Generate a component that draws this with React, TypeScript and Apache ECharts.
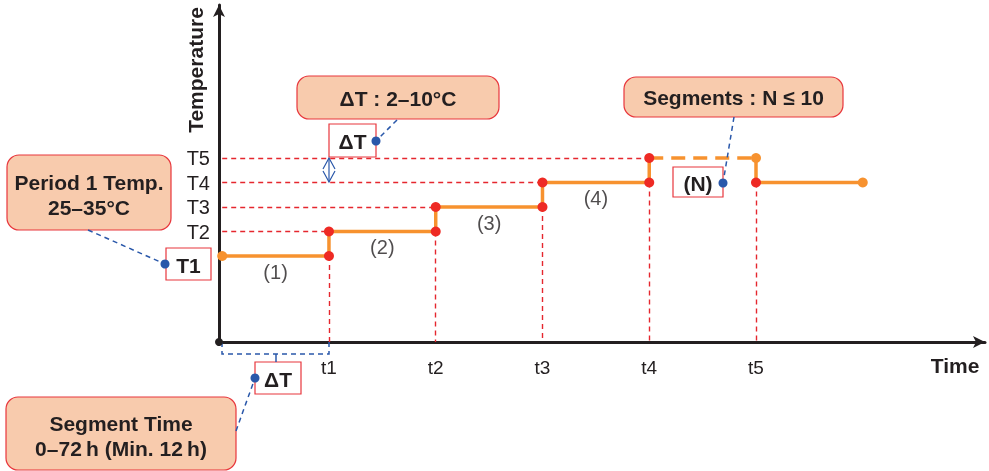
import React, { useEffect, useRef } from "react";
import * as echarts from "echarts";

const timeLabels = ["t1", "t2", "t3", "t4", "t5"];
const timeValues = [1, 2, 3, 4, 5];
const tempLabels = ["T2", "T3", "T4", "T5"];
const tempValues = [2, 3, 4, 5];

const stepSolidA = [[0, 1], [1, 1], [1, 2], [2, 2], [2, 3], [3, 3], [3, 4], [4, 4], [4, 5]];
const stepDashed = [[4, 5], [5, 5]];
const stepSolidB = [[5, 5], [5, 4], [6, 4]];
const redPoints = [[1, 1], [1, 2], [2, 2], [2, 3], [3, 3], [3, 4], [4, 4], [4, 5], [5, 4]];
const orangePoints = [[0, 1], [5, 5], [6, 4]];

const segmentLabels = ["(1)", "(2)", "(3)", "(4)"];
const segmentLabelX = [0.5, 1.5, 2.5, 3.5];
const segmentLabelY = [0.35, 1.35, 2.35, 3.35];

// horizontal guides: [xStart, xEnd, level]
const hGuides = [[0, 1, 2], [0, 2, 3], [0, 3, 4], [0, 4, 5]];
// vertical guides: [x, level of lowest dot]
const vGuides = [[1, 1], [2, 2], [3, 3], [4, 4], [5, 4]];

const X_MIN = -0.03;
const X_MAX = 7.145;
const Y_MIN = -2.51;
const Y_MAX = 11.245;

const FONT = "'Liberation Sans', Arial, sans-serif";
const ORANGE = "#F7922F";
const RED = "#EE2A24";
const GUIDE = "#E5272E";
const BLUE = "#2A58AA";
const DARK = "#231F20";
const PEACH = "#F8CBAD";
const BOX_RED = "#E8363C";

function calloutBox(x: number, y: number, w: number, h: number, lines: string[], lineYs: number[]) {
  const els: any[] = [
    {
      type: "rect",
      shape: { x, y, width: w, height: h, r: 12 },
      style: { fill: PEACH, stroke: BOX_RED, lineWidth: 1.2 },
      z: 100,
    },
  ];
  lines.forEach((t, i) => {
    els.push({
      type: "text",
      x: x + w / 2,
      y: lineYs[i],
      style: { text: t, fill: DARK, font: `bold 21px ${FONT}`, align: "center", verticalAlign: "middle" },
      z: 101,
    });
  });
  return els;
}

function smallBox(x: number, y: number, w: number, h: number, text: string) {
  return [
    {
      type: "rect",
      shape: { x, y, width: w, height: h },
      style: { fill: "#fff", stroke: BOX_RED, lineWidth: 1.2 },
      z: 100,
    },
    {
      type: "text",
      x: x + w / 2,
      y: y + h / 2 + 1,
      style: { text, fill: DARK, font: `bold 21px ${FONT}`, align: "center", verticalAlign: "middle" },
      z: 101,
    },
  ];
}

function leader(x1: number, y1: number, x2: number, y2: number) {
  return [
    {
      type: "line",
      shape: { x1, y1, x2, y2 },
      style: { stroke: BLUE, lineWidth: 1.5, lineDash: [5, 4] },
      z: 102,
    },
    {
      type: "circle",
      shape: { cx: x2, cy: y2, r: 4.5 },
      style: { fill: BLUE },
      z: 103,
    },
  ];
}

export default function App() {
  const ref = useRef<HTMLDivElement>(null);
  useEffect(() => {
    if (!ref.current) return;
    const chart = echarts.init(ref.current, undefined, { renderer: "svg" });

    const guideData: any[] = [];
    hGuides.forEach(([x0, x1, lv]) => guideData.push({ coords: [[x0, lv], [x1, lv]] }));
    vGuides.forEach(([x, lv]) => guideData.push({ coords: [[x, lv], [x, Y_MIN]] }));

    const graphics: any[] = [
      {
        type: "text",
        x: 195,
        y: 70,
        rotation: Math.PI / 2,
        style: { text: "Temperature", fill: DARK, font: `bold 21px ${FONT}`, align: "center", verticalAlign: "middle" },
        z: 101,
      },
      {
        type: "text",
        x: 955,
        y: 365,
        style: { text: "Time", fill: DARK, font: `bold 21px ${FONT}`, align: "center", verticalAlign: "middle" },
        z: 101,
      },
      { type: "circle", shape: { cx: 219, cy: 342, r: 4 }, style: { fill: DARK }, z: 103 },
      ...calloutBox(7, 155, 164, 75, ["Period 1 Temp.", "25\u201335\u00B0C"], [182, 207]),
      ...smallBox(166, 248, 45, 32, "T1"),
      ...leader(88, 230, 165, 264),
      ...calloutBox(297, 76, 202, 43, ["\u0394T : 2\u201310\u00B0C"], [98]),
      ...smallBox(329, 124, 47, 33, "\u0394T"),
      ...leader(397, 120, 376, 141),
      {
        type: "polyline",
        shape: { points: [[323, 169], [329, 158], [335, 169]] },
        style: { stroke: BLUE, lineWidth: 1.2, fill: "none" },
        z: 102,
      },
      {
        type: "polyline",
        shape: { points: [[323, 171], [329, 182], [335, 171]] },
        style: { stroke: BLUE, lineWidth: 1.2, fill: "none" },
        z: 102,
      },
      { type: "line", shape: { x1: 329, y1: 158, x2: 329, y2: 182 }, style: { stroke: BLUE, lineWidth: 1.2 }, z: 102 },
      ...calloutBox(624, 77, 219, 40, ["Segments : N \u2264 10"], [97]),
      ...smallBox(673, 167, 50, 30, "(N)"),
      ...leader(734, 117, 723, 183),
      {
        type: "polyline",
        shape: { points: [[222, 342], [222, 354], [329, 354], [329, 342]] },
        style: { stroke: BLUE, lineWidth: 1.5, lineDash: [5, 4], fill: "none" },
        z: 102,
      },
      { type: "line", shape: { x1: 276, y1: 354, x2: 276, y2: 362 }, style: { stroke: BLUE, lineWidth: 1.5 }, z: 102 },
      ...smallBox(255, 362, 46, 32, "\u0394T"),
      ...leader(236, 431, 255, 378),
      ...calloutBox(6, 397, 230, 73, ["Segment Time", "0\u201372\u2009h (Min. 12\u2009h)"], [423, 448]),
    ];

    chart.setOption({
      animation: false,
      grid: { left: 219, right: 4, top: 5, bottom: 129, containLabel: false },
      xAxis: {
        type: "value",
        min: X_MIN,
        max: X_MAX,
        axisLine: {
          show: true,
          onZero: false,
          symbol: ["none", "arrow"],
          symbolSize: [9, 12],
          lineStyle: { color: DARK, width: 3 },
        },
        axisTick: { show: false },
        splitLine: { show: false },
        axisLabel: {
          customValues: timeValues,
          formatter: (v: number) => timeLabels[timeValues.indexOf(Math.round(v))] ?? "",
          color: DARK,
          fontSize: 19,
          fontFamily: FONT,
          margin: 16,
        },
      },
      yAxis: {
        type: "value",
        min: Y_MIN,
        max: Y_MAX,
        axisLine: {
          show: true,
          onZero: false,
          symbol: ["none", "arrow"],
          symbolSize: [9, 12],
          lineStyle: { color: DARK, width: 3 },
        },
        axisTick: { show: false },
        splitLine: { show: false },
        axisLabel: {
          customValues: tempValues,
          formatter: (v: number) => tempLabels[tempValues.indexOf(Math.round(v))] ?? "",
          color: DARK,
          fontSize: 20,
          fontFamily: FONT,
          margin: 9,
        },
      },
      series: [
        {
          type: "lines",
          coordinateSystem: "cartesian2d",
          data: guideData,
          lineStyle: { color: GUIDE, width: 1.4, type: [5, 4], opacity: 1 },
          symbol: "none",
          silent: true,
          z: 1,
        },
        {
          type: "line",
          data: stepSolidA,
          showSymbol: false,
          lineStyle: { color: ORANGE, width: 3.5 },
          z: 3,
        },
        {
          type: "line",
          data: stepDashed,
          showSymbol: false,
          lineStyle: { color: ORANGE, width: 3.5, type: [14, 8] },
          z: 3,
        },
        {
          type: "line",
          data: stepSolidB,
          showSymbol: false,
          lineStyle: { color: ORANGE, width: 3.5 },
          z: 3,
        },
        {
          type: "scatter",
          data: orangePoints,
          symbolSize: 10,
          itemStyle: { color: ORANGE, opacity: 1 },
          z: 4,
        },
        {
          type: "scatter",
          data: redPoints,
          symbolSize: 10,
          itemStyle: { color: RED, opacity: 1 },
          z: 5,
        },
        {
          type: "scatter",
          data: segmentLabels.map((t, i) => ({ value: [segmentLabelX[i], segmentLabelY[i]], name: t })),
          symbolSize: 0,
          label: {
            show: true,
            position: "inside",
            formatter: (p: any) => p.name,
            color: DARK,
            fontSize: 20,
            fontFamily: FONT,
          },
          z: 4,
        },
      ],
      graphic: graphics,
    });
    return () => chart.dispose();
  }, []);
  return <div ref={ref} style={{ position: "fixed", left: 0, top: 0, width: 989, height: 471 }} />;
}
